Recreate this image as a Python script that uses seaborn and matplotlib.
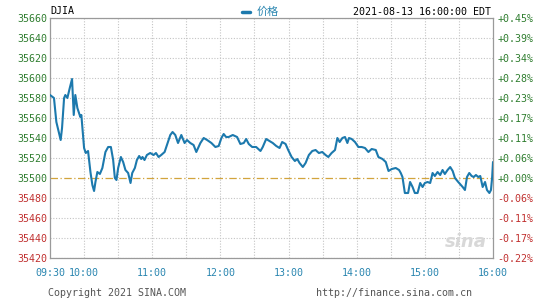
import numpy as np
import pandas as pd
import matplotlib
matplotlib.use("Agg")
import matplotlib.pyplot as plt
import seaborn as sns
from matplotlib.lines import Line2D

# ---- data (minutes after 09:30, index value) ----
minutes = [0, 3.5, 5.6, 9.4, 10.6, 12.4, 13.5, 15.3, 17.4, 19.4, 20.9, 22.3, 24.1, 25.3,
           26.7, 27.6, 30, 31.5, 33.5, 35.6, 37.3, 38.8, 40, 41.7, 43.9, 46.1, 48.8, 51.2,
           53.6, 55.6, 57.1, 58.5, 60, 62.4, 64.4, 66.4, 68.8, 70.9, 72.4, 74.7, 76.5, 78.5,
           80.3, 81.4, 83.2, 85.3, 88.2, 91.2, 93.3, 95.6, 97.9, 100.9, 103, 105.9, 107.9,
           110.3, 112.7, 115.6, 118.5, 120.6, 123.5, 126.4, 128.8, 132.4, 135.3, 138.3, 142.1,
           145.6, 148.5, 150.9, 152.9, 155, 157.3, 160.9, 164.7, 167.6, 170.6, 172.7, 175,
           178, 181.5, 185.3, 187.3, 190.3, 193.2, 196.1, 199.2, 202.1, 204.4, 207.4, 209.7,
           212.7, 215.6, 217.7, 219.7, 222.6, 225, 227.9, 230.9, 233.8, 236.7, 239.7, 242.6,
           245, 247.9, 250.9, 253, 255, 257.4, 259.7, 261.8, 263.2, 265.6, 268.5, 271.5,
           274.4, 277.3, 280.3, 283.2, 286.8, 289.1, 292.7, 295.6, 298, 300.9, 304.4, 307.3,
           308.8, 310.3, 312.4, 315.3, 317, 319.2, 321.2, 323.6, 325.9, 328, 330, 332.4,
           334.7, 336.8, 338.8, 341.2, 343.5, 345.6, 347.6, 350, 352.3, 354.5, 356.5, 359.4,
           363.3, 365.3, 367.1, 369.1, 371.2, 373, 375, 377, 378.8, 380.9, 383, 384.7, 386.8,
           388.2, 389.2, 390]
prices = [35583, 35580, 35556, 35538, 35550, 35580, 35583, 35580, 35590, 35599, 35563, 35583,
          35570, 35566, 35561, 35563, 35530, 35525, 35527, 35506, 35493, 35487, 35496, 35506,
          35504, 35510, 35526, 35531, 35531, 35518, 35500, 35498, 35510, 35521, 35516, 35508,
          35505, 35495, 35505, 35510, 35518, 35522, 35519, 35521, 35518, 35523, 35525, 35523,
          35525, 35521, 35523, 35526, 35533, 35543, 35546, 35543, 35535, 35543, 35535, 35538,
          35535, 35533, 35526, 35535, 35540, 35538, 35535, 35531, 35532, 35540, 35544, 35541,
          35541, 35543, 35541, 35534, 35535, 35539, 35534, 35531, 35531, 35527, 35531, 35539,
          35537, 35535, 35532, 35530, 35536, 35534, 35528, 35521, 35517, 35519, 35515, 35511,
          35515, 35523, 35527, 35528, 35525, 35526, 35523, 35521, 35525, 35528, 35540, 35536,
          35540, 35541, 35535, 35540, 35539, 35536, 35531, 35531, 35530, 35526, 35529, 35528,
          35521, 35519, 35516, 35507, 35509, 35510, 35508, 35505, 35501, 35485, 35485, 35496,
          35491, 35485, 35485, 35495, 35491, 35495, 35496, 35495, 35505, 35502, 35506, 35503,
          35508, 35504, 35508, 35511, 35507, 35500, 35496, 35491, 35488, 35501, 35505, 35502,
          35501, 35503, 35501, 35502, 35491, 35496, 35488, 35485, 35488, 35500, 35516]
prev_close = 35499.85
y_ticks = [35420, 35440, 35460, 35480, 35500, 35520, 35540, 35560, 35580, 35600, 35620, 35640, 35660]
x_tick_minutes = [0, 30, 90, 150, 210, 270, 330, 390]
x_tick_labels = ["09:30", "10:00", "11:00", "12:00", "13:00", "14:00", "15:00", "16:00"]
title = "DJIA"
legend_label = "价格"
stamp = "2021-08-13 16:00:00 EDT"
copyright_txt = "Copyright 2021 SINA.COM"
url_txt = "http://finance.sina.com.cn"

df = pd.DataFrame({"minute": minutes, "price": prices})

sns.set_style("white")
plt.rcParams["font.family"] = ["DejaVu Sans Mono", "Noto Sans CJK SC"]
FS = 7.2
GREEN = "#2f7d2f"
RED = "#c0302f"
TEAL = "#2a86b0"
LINE = "#1c79ad"

fig = plt.figure(figsize=(5.45, 3.0), dpi=100)
ax = fig.add_axes([50 / 545, 42 / 300, 443 / 545, 240 / 300])

# grid
for v in y_ticks:
    if v == round(prev_close):
        continue
    ax.axhline(v, color="#c4c4c4", lw=0.8, ls=(0, (1, 1.5)), zorder=0)
for m in range(30, 390, 30):
    ax.axvline(m, color="#c4c4c4", lw=0.8, ls=(0, (1, 1.5)), zorder=0)
ax.axhline(prev_close, color="#d2a43c", lw=0.9, ls=(0, (6, 2, 1, 2)), zorder=1)

sns.lineplot(data=df, x="minute", y="price", ax=ax, color=LINE, lw=1.5, zorder=3)

ax.set_xlim(0, 390)
ax.set_ylim(y_ticks[0], y_ticks[-1])
ax.set_xlabel("")
ax.set_ylabel("")
for s in ax.spines.values():
    s.set_color("#9a9a9a")
    s.set_linewidth(0.9)

ax.set_yticks(y_ticks)
ax.set_yticklabels([str(v) for v in y_ticks], fontsize=FS)
for lab, v in zip(ax.get_yticklabels(), y_ticks):
    lab.set_color(GREEN if v >= prev_close else RED)
ax.tick_params(axis="y", length=0, pad=2)

ax.set_xticks(x_tick_minutes)
ax.set_xticklabels(x_tick_labels, fontsize=FS, color=TEAL)
ax.tick_params(axis="x", length=0, pad=7)

ax2 = ax.twinx()
ax2.set_ylim(y_ticks[0], y_ticks[-1])
ax2.set_yticks(y_ticks)
pct = [(v - prev_close) / prev_close * 100 for v in y_ticks]
ax2.set_yticklabels([("+" if p >= 0 else "") + f"{p:.2f}%" for p in pct], fontsize=FS)
for lab, p in zip(ax2.get_yticklabels(), pct):
    lab.set_color(GREEN if p >= 0 else RED)
ax2.tick_params(axis="y", length=0, pad=3)
for s in ax2.spines.values():
    s.set_visible(False)

# header texts
fig.text(50 / 545, 1 - 11 / 300, title, fontsize=FS, color="black", ha="left", va="center")
fig.add_artist(Line2D([242 / 545, 250 / 545], [1 - 12 / 300, 1 - 12 / 300],
                      color=LINE, lw=2.5, transform=fig.transFigure))
fig.text(257 / 545, 1 - 12 / 300, legend_label, fontsize=8, color=TEAL, ha="left", va="center",
         family=["Noto Sans CJK SC", "DejaVu Sans"])
fig.text(491 / 545, 1 - 12 / 300, stamp, fontsize=FS, color="black", ha="right", va="center")

# footer
fig.text(48 / 545, 1 - 293 / 300, copyright_txt, fontsize=FS, color="#555555", ha="left", va="center")
fig.text(472 / 545, 1 - 293 / 300, url_txt, fontsize=FS, color="#555555", ha="right", va="center")

# watermark
ax.text(0.985, 0.03, "sina", transform=ax.transAxes, fontsize=13, color="#d8d8d8",
        ha="right", va="bottom", style="italic", weight="bold", family="DejaVu Sans", zorder=2)

fig.savefig("out.png", dpi=100)
